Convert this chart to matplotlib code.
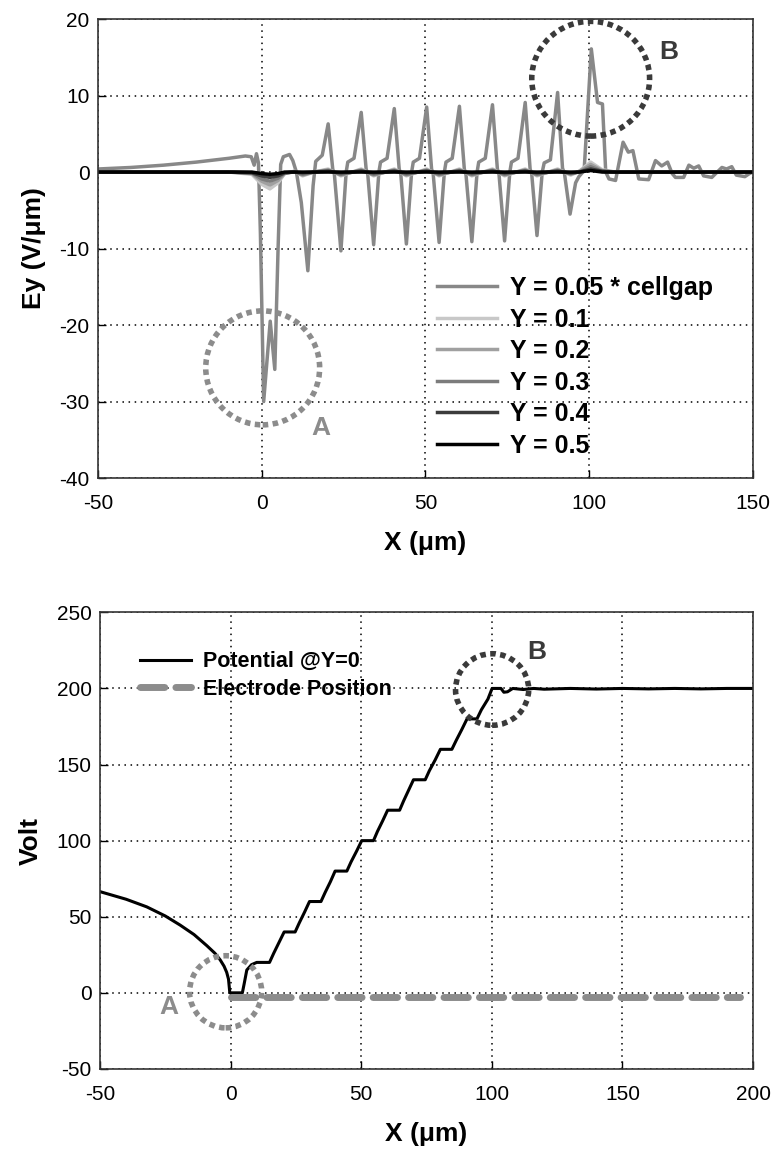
import matplotlib
matplotlib.use('Agg')
import matplotlib.pyplot as plt
from matplotlib.patches import Ellipse

plt.rcParams['font.family'] = ['Liberation Sans', 'DejaVu Sans']
plt.rcParams['axes.unicode_minus'] = False

# ---- top panel: Ey along X at several heights ----
x_005 = [-50, -40, -30, -20, -10, -5, -3.2, -2.3, -1.6, -1.0, -0.4, 0.6, 2.6, 4.0, 5.0, 5.8, 6.6, 8.5, 9.5,
         10.6, 12.1, 14.1, 15.7, 16.5, 18.5, 20.3, 21.7, 22.2, 24.2, 25.8, 26.3, 28.2, 30.4, 31.9, 32.4,
         34.2, 35.8, 36.3, 38.3, 40.5, 42.0, 42.5, 44.2, 45.8, 46.3, 48.2, 50.4, 51.9, 52.4, 54.2, 55.8,
         56.3, 58.2, 60.4, 61.9, 62.4, 64.2, 65.8, 66.3, 68.3, 70.5, 72.0, 72.5, 74.2, 75.8, 76.3, 78.3,
         80.5, 82.0, 82.5, 84.1, 85.7, 86.3, 88.2, 90.4, 91.9, 92.5, 94.2, 95.9, 96.9, 98.5, 100.7, 102.6,
         104.1, 105.1, 106.1, 108.1, 110.4, 112.0, 113.4, 115.2, 118.2, 120.3, 122.2, 124.0, 125.4, 126.4,
         128.9, 130.5, 132.0, 133.5, 135.0, 137.5, 140.6, 142.0, 143.6, 145.0, 147.6, 149.0, 150]
ey_005 = [0.4, 0.6, 0.9, 1.3, 1.8, 2.1, 2.0, 0.9, 2.4, 1.2, -8.0, -30.0, -19.5, -25.8, -10.0, 1.0, 2.0, 2.3, 1.5,
          0.0, -4.0, -12.9, -1.8, 1.4, 2.2, 6.3, 0.4, -0.3, -10.3, 0.0, 1.3, 1.8, 7.8, 0.4, -0.3,
          -9.5, 0.0, 1.3, 1.8, 8.3, 0.4, -0.3, -9.4, 0.0, 1.3, 1.8, 8.5, 0.4, -0.3, -9.2, 0.0,
          1.3, 1.8, 8.6, 0.4, -0.3, -9.1, 0.0, 1.3, 1.8, 8.8, 0.4, -0.3, -9.0, 0.0, 1.3, 1.8,
          9.1, 0.4, -0.3, -8.3, 0.0, 1.2, 1.6, 10.4, 0.5, -0.2, -5.5, -1.4, -0.6, 0.2, 16.1, 9.1,
          8.9, 0.0, -0.9, -1.1, 3.9, 2.6, 2.8, -0.9, -1.0, 1.5, 0.8, 1.3, -0.2, -0.7,
          -0.7, 0.9, 0.5, 0.8, -0.5, -0.7, 0.6, 0.4, 0.7, -0.4, -0.6, -0.2, 0.0]

x_minor = [-50, -10, -3, 0, 2.5, 5, 7, 10, 12.5, 16, 20.3, 24.2, 30.4, 34.2, 40.5, 44.2, 50.4, 54.2,
           60.4, 64.2, 70.5, 74.2, 80.5, 84.1, 90.4, 94.4, 97, 100.5, 104, 108, 150]
ey_01 = [0.0, 0.0, -0.3, -1.6, -2.2, -1.4, -0.2, 0.1, -0.5, 0.0, 0.4, -0.5, 0.4, -0.5, 0.4, -0.5, 0.4, -0.5,
         0.4, -0.5, 0.4, -0.5, 0.4, -0.5, 0.4, -0.4, 0.1, 1.3, 0.3, 0.0, 0.0]
ey_02 = [0.0, 0.0, -0.2, -1.2, -1.7, -1.1, -0.2, 0.1, -0.4, 0.0, 0.3, -0.4, 0.3, -0.4, 0.3, -0.4, 0.3, -0.4,
         0.3, -0.4, 0.3, -0.4, 0.3, -0.4, 0.3, -0.3, 0.1, 1.0, 0.2, 0.0, 0.0]
ey_03 = [0.0, 0.0, -0.1, -0.9, -1.2, -0.8, -0.1, 0.0, -0.3, 0.0, 0.2, -0.3, 0.2, -0.3, 0.2, -0.3, 0.2, -0.3,
         0.2, -0.3, 0.2, -0.3, 0.2, -0.3, 0.2, -0.2, 0.0, 0.7, 0.1, 0.0, 0.0]
ey_04 = [0.0, 0.0, -0.1, -0.5, -0.7, -0.5, -0.1, 0.0, -0.1, 0.0, 0.1, -0.1, 0.1, -0.1, 0.1, -0.1, 0.1, -0.1,
         0.1, -0.1, 0.1, -0.1, 0.1, -0.1, 0.1, -0.1, 0.0, 0.4, 0.1, 0.0, 0.0]
ey_05 = [0.0, 0.0, 0.0, -0.2, -0.3, -0.2, 0.0, 0.0, 0.0, 0.0, 0.0, 0.0, 0.0, 0.0, 0.0, 0.0, 0.0, 0.0,
         0.0, 0.0, 0.0, 0.0, 0.0, 0.0, 0.0, 0.0, 0.0, 0.2, 0.0, 0.0, 0.0]

labels_top = ['Y = 0.05 * cellgap', 'Y = 0.1', 'Y = 0.2', 'Y = 0.3', 'Y = 0.4', 'Y = 0.5']

# ---- bottom panel: potential at Y=0 ----
x_pot = [-50, -40, -32.1, -25, -19.3, -14, -9.1, -6, -4.0, -2.5, -1.5, -0.8, -0.3, 4.5, 5.2, 6.2, 8.0, 10.0,
         14.9, 16.5, 18.5, 20.5, 24.7, 26.3, 28.3, 30.2, 34.6, 36.2, 38.2, 40.0, 44.5, 46.1, 48.2, 50.2,
         54.7, 56.2, 58.2, 60.1, 64.7, 66.2, 68.1, 70.0, 74.5, 76.1, 78.3, 80.3, 84.7, 86.4, 88.5, 90.5,
         94.3, 96.0, 98.5, 100.1, 103.5, 104.6, 106.0, 108.0, 112, 116, 120, 130, 140, 150, 160, 170,
         180, 190, 200]
v_pot = [66.5, 61.5, 56.5, 50.5, 44.5, 38.3, 31.0, 26.0, 21.7, 17.5, 13.5, 9.0, 0.0, 0.0, 6.0, 15.0, 18.5, 20.0,
         20.0, 26.0, 33.0, 40.0, 40.0, 46.0, 53.0, 60.0, 60.0, 66.0, 73.0, 80.0, 80.0, 86.0, 93.0, 100.0,
         100.0, 106.0, 113.0, 120.0, 120.0, 126.0, 133.0, 140.0, 140.0, 146.0, 153.0, 160.0, 160.0, 166.0, 173.0, 180.0,
         180.0, 186.0, 193.0, 200.0, 200.0, 197.5, 197.8, 200.0, 199.3, 200.0, 199.5, 200.0, 199.6, 200.0, 199.7, 200.0,
         199.7, 200.0, 200.0]

x_elec = [0, 195]
v_elec = [-2.5, -2.5]


def style_axes(ax):
    ax.grid(True, color='black', linestyle=(0, (1, 3)), linewidth=1.1)
    ax.tick_params(direction='in', length=6, width=1, labelsize=15, pad=6, top=False, right=False)
    ax.tick_params(axis='x', pad=11.5)
    for s in ax.spines.values():
        s.set_color('#333333')
        s.set_linewidth(1.2)


def circle(ax, cx, cy, w, h, col):
    ax.add_patch(Ellipse((cx, cy), w, h, fill=False, edgecolor=col, linewidth=4,
                         linestyle=(0, (1, 0.8)), zorder=6, clip_on=False))


fig = plt.figure(figsize=(7.72, 11.56), dpi=100)

ax1 = fig.add_axes([0.127, 0.5865, 0.848, 0.397])
line_cols = ['#888888', '#c8c8c8', '#a0a0a0', '#7c7c7c', '#3c3c3c', '#000000']
ax1.plot(x_005, ey_005, color=line_cols[0], lw=2.5, label=labels_top[0])
ax1.plot(x_minor, ey_01, color=line_cols[1], lw=2.5, label=labels_top[1])
ax1.plot(x_minor, ey_02, color=line_cols[2], lw=2.5, label=labels_top[2])
ax1.plot(x_minor, ey_03, color=line_cols[3], lw=2.5, label=labels_top[3])
ax1.plot(x_minor, ey_04, color=line_cols[4], lw=2.5, label=labels_top[4])
ax1.plot(x_minor, ey_05, color=line_cols[5], lw=2.5, label=labels_top[5])
ax1.set_xlim(-50, 150)
ax1.set_ylim(-40, 20)
ax1.set_xticks([-50, 0, 50, 100, 150])
ax1.set_yticks([-40, -30, -20, -10, 0, 10, 20])
style_axes(ax1)
ax1.set_xlabel('X (\u03bcm)', fontsize=19, fontweight='bold', labelpad=13)
ax1.set_ylabel('Ey (V/\u03bcm)', fontsize=19, fontweight='bold', labelpad=10)
ax1.legend(loc='upper left', bbox_to_anchor=(0.518, 0.44), frameon=False, borderpad=0, borderaxespad=0,
           handlelength=2.4, handletextpad=0.5, labelspacing=0.3,
           prop={'size': 18, 'weight': 'bold'})
circle(ax1, 0.3, -25.6, 34.8, 14.9, '#8c8c8c')
circle(ax1, 100.5, 12.2, 36.0, 15.0, '#3a3a3a')
ax1.text(18, -33.4, 'A', color='#8c8c8c', fontsize=19, fontweight='bold', ha='center', va='center')
ax1.text(124.4, 15.7, 'B', color='#3a3a3a', fontsize=19, fontweight='bold', ha='center', va='center')

ax2 = fig.add_axes([0.1295, 0.0753, 0.846, 0.395])
ax2.plot(x_pot, v_pot, color='black', lw=2.2, label='Potential @Y=0')
ax2.plot(x_elec, v_elec, color='#8c8c8c', lw=5, linestyle=(0, (3.5, 1.6)), dash_capstyle='round',
         label='Electrode Position')
ax2.set_xlim(-50, 200)
ax2.set_ylim(-50, 250)
ax2.set_xticks([-50, 0, 50, 100, 150, 200])
ax2.set_yticks([-50, 0, 50, 100, 150, 200, 250])
style_axes(ax2)
ax2.set_xlabel('X (\u03bcm)', fontsize=19, fontweight='bold', labelpad=13)
ax2.set_ylabel('Volt', fontsize=19, fontweight='bold', labelpad=10)
ax2.legend(loc='upper left', bbox_to_anchor=(0.061, 0.915), frameon=False, borderpad=0, borderaxespad=0,
           handlelength=2.4, handletextpad=0.55, labelspacing=0.3,
           prop={'size': 15.5, 'weight': 'bold'})
circle(ax2, -1.9, 0.7, 27.6, 47.4, '#8c8c8c')
circle(ax2, 100.1, 199.3, 28.0, 47.0, '#3a3a3a')
ax2.text(-23.8, -9, 'A', color='#8c8c8c', fontsize=19, fontweight='bold', ha='center', va='center')
ax2.text(117, 223.7, 'B', color='#3a3a3a', fontsize=19, fontweight='bold', ha='center', va='center')

fig.savefig('out.png', dpi=100)
